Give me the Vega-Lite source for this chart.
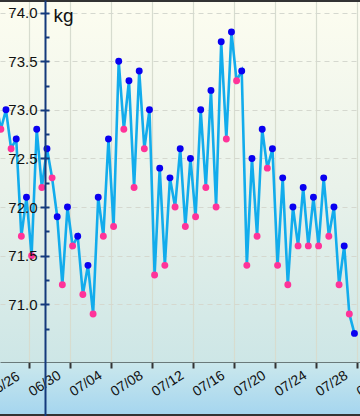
{
  "$schema": "https://vega.github.io/schema/vega-lite/v6.json",
  "width": 360,
  "height": 416,
  "padding": 0,
  "autosize": {"type": "none"},
  "config": {
    "view": {
      "stroke": null,
      "fill": {"gradient": "linear", "x1": 0, "y1": 0, "x2": 0, "y2": 1,
        "stops": [
          {"offset": 0, "color": "#fdfdf0"},
          {"offset": 0.45, "color": "#e9f2ea"},
          {"offset": 0.87, "color": "#cde6e6"},
          {"offset": 1, "color": "#cde6e6"}
        ]}
    },
    "axis": {"labelFont": "Liberation Sans", "titleFont": "Liberation Sans"}
  },
  "datasets": {
    "w": [
      {"t": "2013-06-26T18:00:00", "kg": 73.1, "s": "pm"},
      {"t": "2013-06-27T06:00:00", "kg": 72.8, "s": "am"},
      {"t": "2013-06-27T18:00:00", "kg": 73.0, "s": "pm"},
      {"t": "2013-06-28T06:00:00", "kg": 72.6, "s": "am"},
      {"t": "2013-06-28T18:00:00", "kg": 72.7, "s": "pm"},
      {"t": "2013-06-29T06:00:00", "kg": 71.7, "s": "am"},
      {"t": "2013-06-29T18:00:00", "kg": 72.1, "s": "pm"},
      {"t": "2013-06-30T06:00:00", "kg": 71.5, "s": "am"},
      {"t": "2013-06-30T18:00:00", "kg": 72.8, "s": "pm"},
      {"t": "2013-07-01T06:00:00", "kg": 72.2, "s": "am"},
      {"t": "2013-07-01T18:00:00", "kg": 72.6, "s": "pm"},
      {"t": "2013-07-02T06:00:00", "kg": 72.3, "s": "am"},
      {"t": "2013-07-02T18:00:00", "kg": 71.9, "s": "pm"},
      {"t": "2013-07-03T06:00:00", "kg": 71.2, "s": "am"},
      {"t": "2013-07-03T18:00:00", "kg": 72.0, "s": "pm"},
      {"t": "2013-07-04T06:00:00", "kg": 71.6, "s": "am"},
      {"t": "2013-07-04T18:00:00", "kg": 71.7, "s": "pm"},
      {"t": "2013-07-05T06:00:00", "kg": 71.1, "s": "am"},
      {"t": "2013-07-05T18:00:00", "kg": 71.4, "s": "pm"},
      {"t": "2013-07-06T06:00:00", "kg": 70.9, "s": "am"},
      {"t": "2013-07-06T18:00:00", "kg": 72.1, "s": "pm"},
      {"t": "2013-07-07T06:00:00", "kg": 71.7, "s": "am"},
      {"t": "2013-07-07T18:00:00", "kg": 72.7, "s": "pm"},
      {"t": "2013-07-08T06:00:00", "kg": 71.8, "s": "am"},
      {"t": "2013-07-08T18:00:00", "kg": 73.5, "s": "pm"},
      {"t": "2013-07-09T06:00:00", "kg": 72.8, "s": "am"},
      {"t": "2013-07-09T18:00:00", "kg": 73.3, "s": "pm"},
      {"t": "2013-07-10T06:00:00", "kg": 72.2, "s": "am"},
      {"t": "2013-07-10T18:00:00", "kg": 73.4, "s": "pm"},
      {"t": "2013-07-11T06:00:00", "kg": 72.6, "s": "am"},
      {"t": "2013-07-11T18:00:00", "kg": 73.0, "s": "pm"},
      {"t": "2013-07-12T06:00:00", "kg": 71.3, "s": "am"},
      {"t": "2013-07-12T18:00:00", "kg": 72.4, "s": "pm"},
      {"t": "2013-07-13T06:00:00", "kg": 71.4, "s": "am"},
      {"t": "2013-07-13T18:00:00", "kg": 72.3, "s": "pm"},
      {"t": "2013-07-14T06:00:00", "kg": 72.0, "s": "am"},
      {"t": "2013-07-14T18:00:00", "kg": 72.6, "s": "pm"},
      {"t": "2013-07-15T06:00:00", "kg": 71.8, "s": "am"},
      {"t": "2013-07-15T18:00:00", "kg": 72.5, "s": "pm"},
      {"t": "2013-07-16T06:00:00", "kg": 71.9, "s": "am"},
      {"t": "2013-07-16T18:00:00", "kg": 73.0, "s": "pm"},
      {"t": "2013-07-17T06:00:00", "kg": 72.2, "s": "am"},
      {"t": "2013-07-17T18:00:00", "kg": 73.2, "s": "pm"},
      {"t": "2013-07-18T06:00:00", "kg": 72.0, "s": "am"},
      {"t": "2013-07-18T18:00:00", "kg": 73.7, "s": "pm"},
      {"t": "2013-07-19T06:00:00", "kg": 72.7, "s": "am"},
      {"t": "2013-07-19T18:00:00", "kg": 73.8, "s": "pm"},
      {"t": "2013-07-20T06:00:00", "kg": 73.3, "s": "am"},
      {"t": "2013-07-20T18:00:00", "kg": 73.4, "s": "pm"},
      {"t": "2013-07-21T06:00:00", "kg": 71.4, "s": "am"},
      {"t": "2013-07-21T18:00:00", "kg": 72.5, "s": "pm"},
      {"t": "2013-07-22T06:00:00", "kg": 71.7, "s": "am"},
      {"t": "2013-07-22T18:00:00", "kg": 72.8, "s": "pm"},
      {"t": "2013-07-23T06:00:00", "kg": 72.4, "s": "am"},
      {"t": "2013-07-23T18:00:00", "kg": 72.6, "s": "pm"},
      {"t": "2013-07-24T06:00:00", "kg": 71.4, "s": "am"},
      {"t": "2013-07-24T18:00:00", "kg": 72.3, "s": "pm"},
      {"t": "2013-07-25T06:00:00", "kg": 71.2, "s": "am"},
      {"t": "2013-07-25T18:00:00", "kg": 72.0, "s": "pm"},
      {"t": "2013-07-26T06:00:00", "kg": 71.6, "s": "am"},
      {"t": "2013-07-26T18:00:00", "kg": 72.2, "s": "pm"},
      {"t": "2013-07-27T06:00:00", "kg": 71.6, "s": "am"},
      {"t": "2013-07-27T18:00:00", "kg": 72.1, "s": "pm"},
      {"t": "2013-07-28T06:00:00", "kg": 71.6, "s": "am"},
      {"t": "2013-07-28T18:00:00", "kg": 72.3, "s": "pm"},
      {"t": "2013-07-29T06:00:00", "kg": 71.7, "s": "am"},
      {"t": "2013-07-29T18:00:00", "kg": 72.0, "s": "pm"},
      {"t": "2013-07-30T06:00:00", "kg": 71.2, "s": "am"},
      {"t": "2013-07-30T18:00:00", "kg": 71.6, "s": "pm"},
      {"t": "2013-07-31T06:00:00", "kg": 70.9, "s": "am"},
      {"t": "2013-07-31T18:00:00", "kg": 70.7, "s": "pm"}
    ]
  },
  "resolve": {"axis": {"x": "independent", "y": "independent"}},
  "layer": [
    {
      "data": {"values": [{}]},
      "mark": {"type": "rect", "fill": {"gradient": "linear", "x1": 0, "y1": 0, "x2": 0, "y2": 1,
        "stops": [{"offset": 0, "color": "#cbe8ec"}, {"offset": 1, "color": "#a4d5ef"}]}},
      "encoding": {
        "y": {"datum": 70.405, "type": "quantitative", "axis": null},
        "y2": {"datum": 69.85}
      }
    },
    {
      "data": {"name": "w"},
      "mark": {"type": "line", "color": "#12acec", "strokeWidth": 2.6},
      "encoding": {
        "x": {"field": "t", "type": "temporal",
          "scale": {"domain": [{"year": 2013, "month": 6, "date": 27, "hours": 4}, {"year": 2013, "month": 8, "date": 1, "hours": 7}]},
          "axis": {"orient": "bottom", "grid": true, "gridColor": "#d7dccf", "gridWidth": 1.2, "domain": false, "ticks": false, "labels": false, "title": null, "zindex": 0,
            "values": [
              {"year": 2013, "month": 6, "date": 30},
              {"year": 2013, "month": 7, "date": 4}, {"year": 2013, "month": 7, "date": 8},
              {"year": 2013, "month": 7, "date": 12}, {"year": 2013, "month": 7, "date": 16},
              {"year": 2013, "month": 7, "date": 20}, {"year": 2013, "month": 7, "date": 24},
              {"year": 2013, "month": 7, "date": 28}, {"year": 2013, "month": 8, "date": 1}
            ]}},
        "y": {"field": "kg", "type": "quantitative",
          "scale": {"domain": [69.85, 74.13], "nice": false, "zero": false},
          "axis": {"orient": "left", "grid": true, "gridColor": "#d5d8cf", "gridDash": [5, 4], "gridWidth": 1, "domain": false, "ticks": false, "labels": false, "title": null, "zindex": 0,
            "values": [71, 71.5, 72, 72.5, 73, 73.5, 74]}}
      }
    },
    {
      "data": {"name": "w"},
      "mark": {"type": "circle", "size": 48, "opacity": 1},
      "encoding": {
        "x": {"field": "t", "type": "temporal",
          "axis": {"orient": "bottom", "offset": -54, "grid": false, "domain": true, "domainColor": "#6a7a7a", "domainWidth": 1,
            "ticks": true, "tickColor": "#333333", "tickSize": 6, "tickWidth": 2,
            "labels": true, "format": "%m/%d", "labelAngle": -33, "labelAlign": "left", "labelBaseline": "top",
            "labelFontSize": 14, "labelColor": "#111111", "labelPadding": 19, "labelOffset": -3, "labelOverlap": false, "labelFlush": false, "labelBound": false,
            "title": null, "zindex": 1,
            "values": [
              {"year": 2013, "month": 6, "date": 30},
              {"year": 2013, "month": 7, "date": 4}, {"year": 2013, "month": 7, "date": 8},
              {"year": 2013, "month": 7, "date": 12}, {"year": 2013, "month": 7, "date": 16},
              {"year": 2013, "month": 7, "date": 20}, {"year": 2013, "month": 7, "date": 24},
              {"year": 2013, "month": 7, "date": 28}, {"year": 2013, "month": 8, "date": 1}
            ]}},
        "y": {"field": "kg", "type": "quantitative",
          "axis": {"orient": "left", "offset": -45, "grid": false, "domain": true, "domainColor": "#143a7c", "domainWidth": 2,
            "ticks": true, "tickColor": "#143a7c", "tickSize": 5, "tickWidth": 2,
            "labels": true, "format": ".1f", "labelFontSize": 15, "labelColor": "#111111", "labelPadding": 3, "labelFlush": false,
            "title": "kg", "titleAngle": 0, "titleAlign": "left", "titleBaseline": "alphabetic", "titleX": 8, "titleY": 21,
            "titleFontSize": 19, "titleFontWeight": "normal", "titleColor": "#111111",
            "zindex": 1,
            "values": [71, 71.5, 72, 72.5, 73, 73.5, 74]}},
        "color": {"field": "s", "type": "nominal",
          "scale": {"domain": ["am", "pm"], "range": ["#ff3399", "#0a00f0"]}, "legend": null}
      }
    },
    {
      "data": {"values": [{"d": "06/26"}]},
      "mark": {"type": "text", "angle": -33, "align": "left", "baseline": "top", "font": "Liberation Sans", "fontSize": 14, "color": "#111111", "dx": -3},
      "encoding": {
        "x": {"datum": {"year": 2013, "month": 6, "date": 26}, "type": "temporal", "axis": null},
        "y": {"datum": 70.149, "type": "quantitative", "axis": null},
        "text": {"field": "d"}
      }
    },
    {
      "data": {"values": [{}]},
      "mark": {"type": "rule", "color": "#333333", "strokeWidth": 4},
      "encoding": {
        "y": {"datum": 74.13, "type": "quantitative",
          "axis": {"orient": "right", "offset": -315, "grid": false, "domain": false, "labels": false, "title": null,
            "ticks": true, "tickColor": "#143a7c", "tickSize": 4, "tickWidth": 2, "zindex": 1,
            "values": [70.75, 71, 71.25, 71.5, 71.75, 72, 72.25, 72.5, 72.75, 73, 73.25, 73.5, 73.75, 74]}}
      }
    },
    {
      "data": {"values": [{}]},
      "mark": {"type": "rule", "color": "#333333", "strokeWidth": 4},
      "encoding": {
        "y": {"datum": 69.85, "type": "quantitative", "axis": null}
      }
    }
  ]
}
